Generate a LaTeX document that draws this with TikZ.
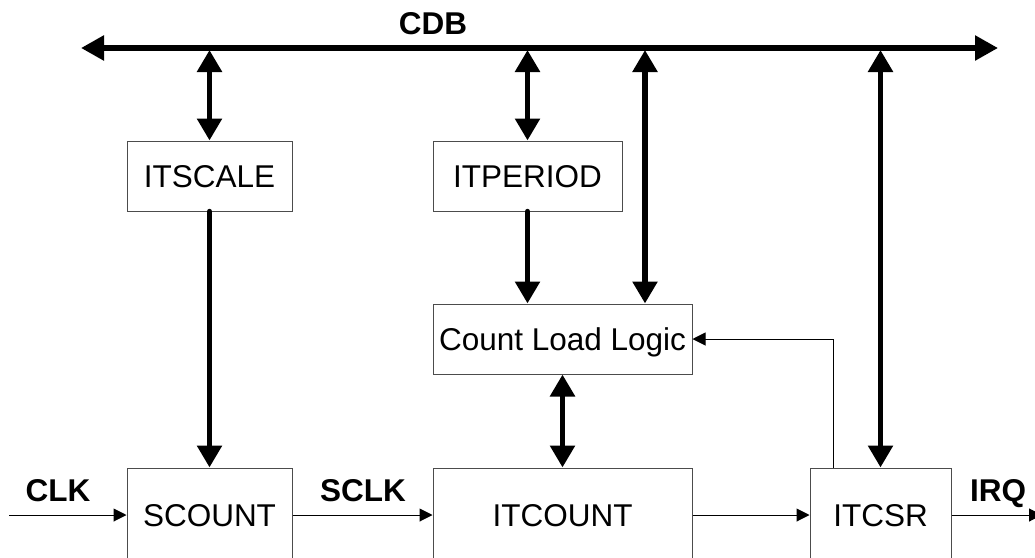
\documentclass[tikz,border=0pt]{standalone}
\usepackage{fontspec}
\setmainfont{Liberation Sans}
\usetikzlibrary{arrows.meta}

\begin{document}
\begin{tikzpicture}[x=1pt,y=-1pt,
  every node/.style={font=\fontsize{31.5}{38}\selectfont},
  block/.style={draw=black!70,line width=1pt,inner sep=0pt,
    text height=22.6pt,text depth=0pt,minimum height=70pt},
  lowblock/.style={block,minimum height=94pt},
  lbl/.style={font=\fontsize{31.5}{38}\selectfont\bfseries,inner sep=0pt,
    text height=22.6pt,text depth=0pt},
  bus/.style={line width=5.5pt,{Triangle[length=23pt,width=24pt]}-{Triangle[length=23pt,width=24pt]}},
  dbl/.style={line width=5.5pt,{Triangle[length=22pt,width=24pt]}-{Triangle[length=22pt,width=24pt]}},
  feed/.style={line width=5.5pt,line cap=round,-{Triangle[length=22pt,width=24pt]}},
  sig/.style={line width=1pt,-{Triangle[length=13pt,width=13pt]}}]

\useasboundingbox (0,0) rectangle (1035,557);
\clip (0,0) rectangle (1035,557);

% register blocks
\node[block,minimum width=165pt] (itscale)  at (209.5,176) {ITSCALE};
\node[block,minimum width=189pt] (itperiod) at (527.5,176) {ITPERIOD};
\node[block,minimum width=259pt] (cll)      at (562.5,339) {Count Load Logic};
\node[lowblock,minimum width=165pt] (scount)  at (209.5,515) {SCOUNT};
\node[lowblock,minimum width=259pt] (itcount) at (562.5,515) {ITCOUNT};
\node[lowblock,minimum width=141pt] (itcsr)   at (880.5,515) {ITCSR};

% data bus
\coordinate (busL) at (81,48);
\coordinate (busR) at (998,48);
\draw[bus] (busL) -- (busR);
\node[lbl] (cdb) at (433,23) {CDB};

\coordinate (tap1) at (209.5,50);
\coordinate (tap2) at (527.5,50);
\coordinate (tap3) at (645,50);
\coordinate (tap4) at (880.5,50);

\draw[dbl] (tap1) -- (itscale.north);
\draw[dbl] (tap2) -- (itperiod.north);
\draw[dbl] (tap3) -- (tap3 |- cll.north);
\draw[dbl] (tap4) -- (itcsr.north);

\draw[feed] (itscale.south) -- (scount.north);
\draw[feed] (itperiod.south) -- (itperiod.south |- cll.north);
\draw[dbl] (cll.south) -- (itcount.north);

% reload feedback from the status register
\draw[sig] ([xshift=-47.5pt]itcsr.north) |- (cll.east);

% clock and interrupt signals
\coordinate (clkin) at (9,515);
\coordinate (irqout) at (1042,515);
\draw[sig] (clkin) -- (scount.west);
\draw[sig] (scount.east) -- (itcount.west);
\draw[sig] (itcount.east) -- (itcsr.west);
\draw[sig] (itcsr.east) -- (irqout);

\node[lbl] (clk)  at (58,490)  {CLK};
\node[lbl] (sclk) at (363,490) {SCLK};
\node[lbl] (irq)  at (998,490) {IRQ};
\end{tikzpicture}
\end{document}
